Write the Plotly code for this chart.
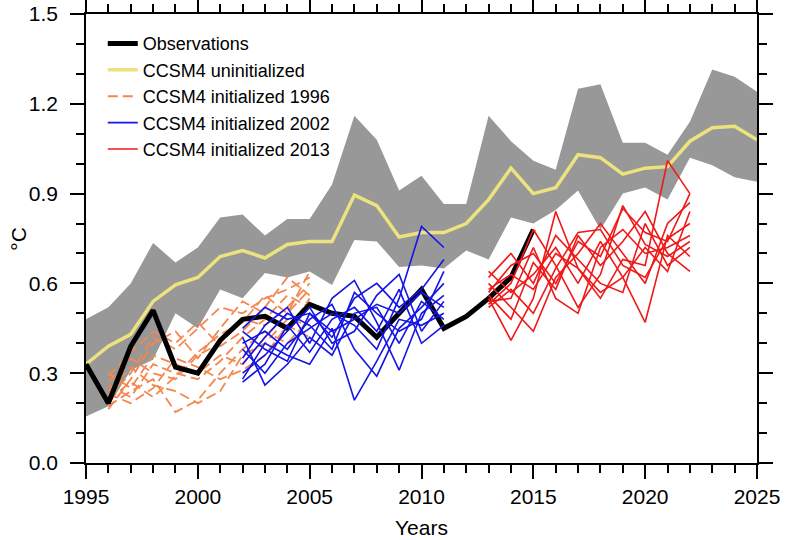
import plotly.graph_objects as go

years = list(range(1995, 2026))

# observations 1995-2015
obs_years = list(range(1995, 2016))
obs = [0.33, 0.20, 0.39, 0.51, 0.32, 0.30, 0.41, 0.48, 0.49, 0.45, 0.53,
       0.50, 0.49, 0.42, 0.50, 0.58, 0.45, 0.49, 0.55, 0.62, 0.78]

# uninitialized ensemble mean and spread 1995-2025
unin_mean = [0.33, 0.39, 0.43, 0.54, 0.595, 0.62, 0.69, 0.71, 0.685, 0.73, 0.74,
             0.74, 0.895, 0.86, 0.755, 0.77, 0.77, 0.80, 0.88, 0.985, 0.90,
             0.92, 1.03, 1.02, 0.965, 0.985, 0.99, 1.075, 1.12, 1.125, 1.08]
unin_upper = [0.48, 0.52, 0.60, 0.735, 0.67, 0.72, 0.82, 0.83, 0.76, 0.815, 0.815,
              0.93, 1.16, 1.08, 0.91, 0.96, 0.865, 0.865, 1.16, 1.075, 1.01,
              0.98, 1.25, 1.265, 1.07, 1.07, 1.03, 1.14, 1.315, 1.29, 1.24]
unin_lower = [0.155, 0.19, 0.31, 0.345, 0.50, 0.45, 0.58, 0.55, 0.635, 0.62, 0.64,
              0.595, 0.745, 0.74, 0.655, 0.66, 0.65, 0.71, 0.68, 0.82, 0.80,
              0.845, 0.91, 0.78, 0.90, 0.92, 0.88, 1.02, 0.995, 0.955, 0.94]

# initialized 1996 members, 1996-2005
init96_years = list(range(1996, 2006))
init96 = [
    [0.22, 0.30, 0.42, 0.38, 0.45, 0.52, 0.50, 0.55, 0.58, 0.62],
    [0.27, 0.35, 0.30, 0.28, 0.36, 0.40, 0.48, 0.46, 0.52, 0.60],
    [0.19, 0.24, 0.28, 0.17, 0.21, 0.30, 0.38, 0.44, 0.40, 0.48],
    [0.30, 0.25, 0.36, 0.33, 0.30, 0.36, 0.33, 0.42, 0.50, 0.64],
    [0.24, 0.32, 0.26, 0.24, 0.20, 0.24, 0.36, 0.40, 0.48, 0.46],
    [0.18, 0.28, 0.40, 0.44, 0.35, 0.45, 0.54, 0.50, 0.44, 0.55],
    [0.26, 0.22, 0.33, 0.30, 0.28, 0.34, 0.42, 0.48, 0.56, 0.52],
    [0.21, 0.27, 0.22, 0.29, 0.37, 0.43, 0.47, 0.56, 0.50, 0.58],
    [0.29, 0.37, 0.44, 0.40, 0.47, 0.39, 0.44, 0.52, 0.62, 0.56],
    [0.23, 0.20, 0.25, 0.35, 0.32, 0.28, 0.31, 0.36, 0.46, 0.42],
]

# initialized 2002 members, 2002-2011
init02_years = list(range(2002, 2012))
init02 = [
    [0.45, 0.52, 0.48, 0.50, 0.42, 0.55, 0.60, 0.52, 0.58, 0.68],
    [0.38, 0.30, 0.40, 0.45, 0.50, 0.46, 0.38, 0.55, 0.79, 0.72],
    [0.28, 0.40, 0.36, 0.33, 0.45, 0.21, 0.34, 0.48, 0.46, 0.50],
    [0.42, 0.26, 0.33, 0.42, 0.36, 0.50, 0.52, 0.40, 0.54, 0.48],
    [0.35, 0.46, 0.52, 0.40, 0.55, 0.61, 0.47, 0.31, 0.50, 0.56],
    [0.30, 0.36, 0.44, 0.52, 0.40, 0.44, 0.56, 0.63, 0.44, 0.54],
    [0.40, 0.44, 0.38, 0.48, 0.53, 0.38, 0.29, 0.45, 0.52, 0.60],
    [0.27, 0.33, 0.46, 0.37, 0.48, 0.52, 0.44, 0.58, 0.40, 0.46],
    [0.44, 0.38, 0.34, 0.50, 0.44, 0.48, 0.53, 0.50, 0.57, 0.52],
    [0.33, 0.42, 0.50, 0.46, 0.38, 0.57, 0.50, 0.44, 0.48, 0.64],
]

# initialized 2013 members, 2013-2022
init13_years = list(range(2013, 2023))
init13 = [
    [0.57, 0.66, 0.70, 0.60, 0.74, 0.69, 0.85, 0.77, 0.74, 0.90],
    [0.55, 0.41, 0.55, 0.84, 0.65, 0.57, 0.62, 0.72, 0.64, 0.84],
    [0.60, 0.52, 0.44, 0.62, 0.70, 0.80, 0.70, 0.60, 0.80, 0.87],
    [0.53, 0.60, 0.78, 0.66, 0.52, 0.63, 0.86, 0.73, 0.69, 0.74],
    [0.64, 0.57, 0.63, 0.72, 0.60, 0.74, 0.62, 0.47, 0.76, 0.69],
    [0.56, 0.48, 0.67, 0.58, 0.76, 0.66, 0.74, 0.84, 0.70, 0.64],
    [0.58, 0.63, 0.58, 0.70, 0.65, 0.55, 0.68, 0.66, 1.01, 0.90],
    [0.54, 0.55, 0.72, 0.55, 0.50, 0.72, 0.78, 0.70, 0.72, 0.76],
    [0.62, 0.70, 0.60, 0.76, 0.68, 0.60, 0.57, 0.80, 0.66, 0.72],
    [0.52, 0.58, 0.50, 0.65, 0.77, 0.78, 0.66, 0.62, 0.75, 0.80],
]

fig = go.Figure()

# spread of the uninitialized ensemble
fig.add_trace(go.Scatter(x=years, y=unin_lower, mode='lines', line=dict(width=0),
                         showlegend=False, hoverinfo='skip'))
fig.add_trace(go.Scatter(x=years, y=unin_upper, mode='lines', line=dict(width=0),
                         fill='tonexty', fillcolor='#989898', showlegend=False, hoverinfo='skip'))

fig.add_trace(go.Scatter(x=years, y=unin_mean, mode='lines', name='CCSM4 uninitialized',
                         line=dict(color='#ECE27E', width=3.5), legendrank=2))

for i, m in enumerate(init96):
    fig.add_trace(go.Scatter(x=init96_years, y=m, mode='lines', name='CCSM4 initialized 1996',
                             legendgroup='i96', showlegend=(i == 0), legendrank=3,
                             line=dict(color='#F5874E', width=1.8, dash='10px,5px')))

fig.add_trace(go.Scatter(x=obs_years, y=obs, mode='lines', name='Observations',
                         line=dict(color='black', width=5), legendrank=1))

for i, m in enumerate(init02):
    fig.add_trace(go.Scatter(x=init02_years, y=m, mode='lines', name='CCSM4 initialized 2002',
                             legendgroup='i02', showlegend=(i == 0), legendrank=4,
                             line=dict(color='#1414E6', width=1.6)))

for i, m in enumerate(init13):
    fig.add_trace(go.Scatter(x=init13_years, y=m, mode='lines', name='CCSM4 initialized 2013',
                             legendgroup='i13', showlegend=(i == 0), legendrank=5,
                             line=dict(color='#F01818', width=1.6)))

axis_common = dict(showline=True, linecolor='black', linewidth=1.5, mirror='ticks',
                   ticks='outside', ticklen=14, tickwidth=1.5, tickcolor='black',
                   showgrid=False, zeroline=False, automargin=False,
                   ticklabeloverflow='allow',
                   tickfont=dict(size=21, color='black'))

fig.update_xaxes(range=[1995, 2025], dtick=5, tick0=1995,
                 minor=dict(dtick=1, ticks='outside', ticklen=8, tickwidth=1.5, tickcolor='black'),
                 title=dict(text='Years', font=dict(size=21, color='black'), standoff=13),
                 **axis_common)
fig.update_yaxes(range=[0, 1.5], dtick=0.3, tick0=0, tickformat='.1f', ticklabelstandoff=8,
                 minor=dict(dtick=0.1, ticks='outside', ticklen=8, tickwidth=1.5, tickcolor='black'),
                 **axis_common)

# y title as an annotation, since standoff is ignored without automargin
fig.add_annotation(text='°C', xref='paper', yref='paper', x=-0.101, y=0.5,
                   xanchor='center', yanchor='middle',
                   textangle=-90, showarrow=False, font=dict(size=21, color='black'))

fig.update_layout(
    width=788, height=540,
    margin=dict(l=86, r=31, t=14, b=77),
    plot_bgcolor='white', paper_bgcolor='white',
    font=dict(family='Liberation Sans, Arial, sans-serif', color='black'),
    legend=dict(x=0.025, y=0.975, xanchor='left', yanchor='top', bgcolor='rgba(0,0,0,0)',
                font=dict(size=18, color='black'), traceorder='normal'),
    showlegend=True,
)

# drop the default body margin so the figure fills the window
fig.write_html("out.html", config={'displayModeBar': False},
               post_script="document.body.style.margin='0px';")
